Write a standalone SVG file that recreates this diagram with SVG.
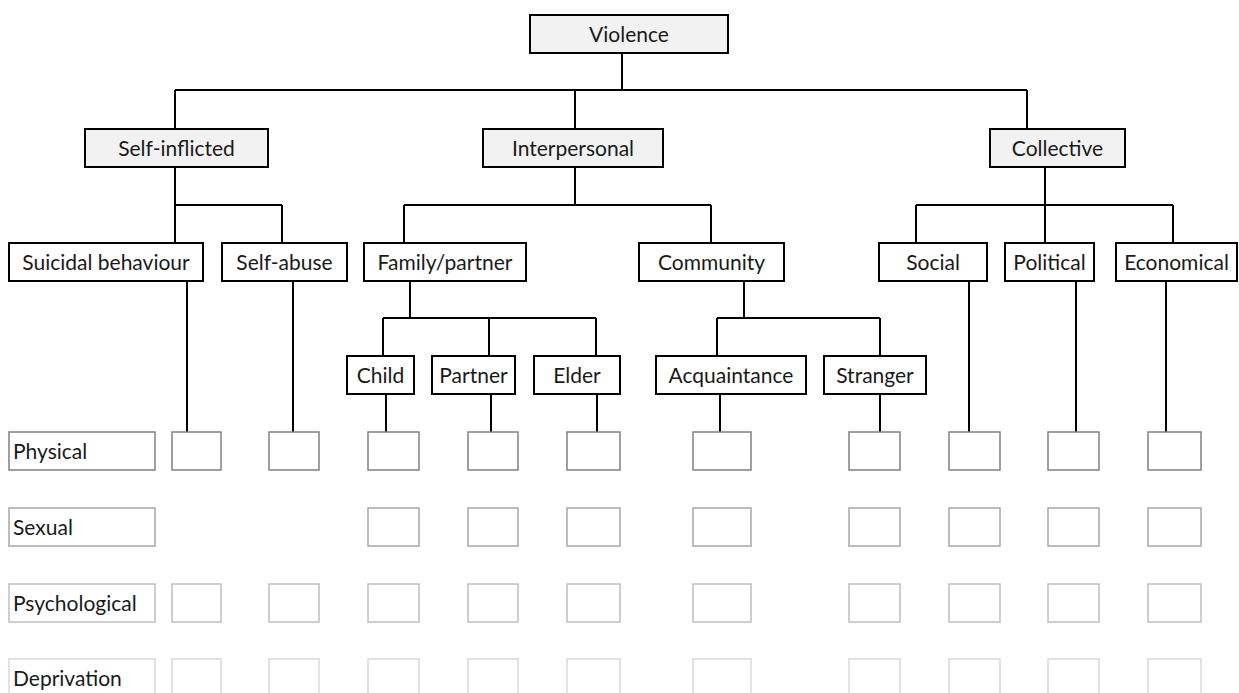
<svg xmlns="http://www.w3.org/2000/svg" width="1239" height="693" viewBox="0 0 1239 693">
<style>
.n rect{stroke:#000;stroke-width:2;fill:#fff}
.g rect{fill:#f2f2f2}
text{font-family:Lato,"Liberation Sans",sans-serif;font-size:21px;fill:#1a1a1a}
.c{text-anchor:middle}
.conn{fill:none;stroke:#000;stroke-width:2}
.r1 rect{fill:#fff;stroke:#808080;stroke-width:1.5}
.r2 rect{fill:#fff;stroke:#a6a6a6;stroke-width:1.5}
.r3 rect{fill:#fff;stroke:#bfbfbf;stroke-width:1.5}
.r4 rect{fill:#fff;stroke:#d9d9d9;stroke-width:1.5}
</style>
<g id="connectors" class="conn">
<path d="M622,53V90M175,90H1027M175,90V129M575,90V129M1027,90V129"/>
<path d="M175,167V205M175,205H282M175,205V243M282,205V243"/>
<path d="M575,167V205M404,205H711M404,205V243M711,205V243"/>
<path d="M1045,167V205M916,205H1173M916,205V243M1045,205V243M1173,205V243"/>
<path d="M187,281V432M293,281V432"/>
<path d="M410,281V318M383,318H596M383,318V356M489,318V356M596,318V356"/>
<path d="M744,281V318M717,318H880M717,318V356M880,318V356"/>
<path d="M386,394V432M491,394V432M597,394V432M720,394V432M880,394V432"/>
<path d="M969,281V432M1076,281V432M1166,281V432"/>
</g>
<g id="violence" class="n g"><rect x="530" y="15" width="198" height="38"/><text class="c" x="629" y="42">Violence</text></g>
<g id="self-inflicted" class="n g"><rect x="85" y="129" width="183" height="38"/><text class="c" x="176.5" y="156">Self-inflicted</text></g>
<g id="interpersonal" class="n g"><rect x="483" y="129" width="180" height="38"/><text class="c" x="573" y="156">Interpersonal</text></g>
<g id="collective" class="n g"><rect x="990" y="129" width="135" height="38"/><text class="c" x="1057.5" y="156">Collective</text></g>
<g id="suicidal" class="n"><rect x="9" y="243" width="194" height="38"/><text class="c" x="106" y="270">Suicidal behaviour</text></g>
<g id="self-abuse" class="n"><rect x="222" y="243" width="125" height="38"/><text class="c" x="284.5" y="270">Self-abuse</text></g>
<g id="family" class="n"><rect x="364" y="243" width="162" height="38"/><text class="c" x="445" y="270">Family/partner</text></g>
<g id="community" class="n"><rect x="639" y="243" width="145" height="38"/><text class="c" x="711.5" y="270">Community</text></g>
<g id="social" class="n"><rect x="879" y="243" width="108" height="38"/><text class="c" x="933" y="270">Social</text></g>
<g id="political" class="n"><rect x="1005" y="243" width="89" height="38"/><text class="c" x="1049.5" y="270">Political</text></g>
<g id="economical" class="n"><rect x="1116" y="243" width="121" height="38"/><text class="c" x="1176.5" y="270">Economical</text></g>
<g id="child" class="n"><rect x="347" y="356" width="67" height="38"/><text class="c" x="380.5" y="383">Child</text></g>
<g id="partner" class="n"><rect x="432" y="356" width="83" height="38"/><text class="c" x="473.5" y="383">Partner</text></g>
<g id="elder" class="n"><rect x="534" y="356" width="86" height="38"/><text class="c" x="577" y="383">Elder</text></g>
<g id="acquaintance" class="n"><rect x="656" y="356" width="150" height="38"/><text class="c" x="731" y="383">Acquaintance</text></g>
<g id="stranger" class="n"><rect x="824" y="356" width="102" height="38"/><text class="c" x="875" y="383">Stranger</text></g>
<g id="row-physical" class="r1">
<rect x="9" y="432" width="146" height="38"/><text x="13" y="459">Physical</text>
<rect x="172" y="432" width="49" height="38"/><rect x="269" y="432" width="50" height="38"/><rect x="368" y="432" width="51" height="38"/><rect x="468" y="432" width="50" height="38"/><rect x="567" y="432" width="53" height="38"/><rect x="693" y="432" width="58" height="38"/><rect x="849" y="432" width="51" height="38"/><rect x="949" y="432" width="51" height="38"/><rect x="1048" y="432" width="51" height="38"/><rect x="1148" y="432" width="53" height="38"/>
</g>
<g id="row-sexual" class="r2">
<rect x="9" y="508" width="146" height="38"/><text x="13" y="535">Sexual</text>
<rect x="368" y="508" width="51" height="38"/><rect x="468" y="508" width="50" height="38"/><rect x="567" y="508" width="53" height="38"/><rect x="693" y="508" width="58" height="38"/><rect x="849" y="508" width="51" height="38"/><rect x="949" y="508" width="51" height="38"/><rect x="1048" y="508" width="51" height="38"/><rect x="1148" y="508" width="53" height="38"/>
</g>
<g id="row-psychological" class="r3">
<rect x="9" y="584" width="146" height="38"/><text x="13" y="611">Psychological</text>
<rect x="172" y="584" width="49" height="38"/><rect x="269" y="584" width="50" height="38"/><rect x="368" y="584" width="51" height="38"/><rect x="468" y="584" width="50" height="38"/><rect x="567" y="584" width="53" height="38"/><rect x="693" y="584" width="58" height="38"/><rect x="849" y="584" width="51" height="38"/><rect x="949" y="584" width="51" height="38"/><rect x="1048" y="584" width="51" height="38"/><rect x="1148" y="584" width="53" height="38"/>
</g>
<g id="row-deprivation" class="r4">
<rect x="9" y="659" width="146" height="38"/><text x="13" y="686">Deprivation</text>
<rect x="172" y="659" width="49" height="38"/><rect x="269" y="659" width="50" height="38"/><rect x="368" y="659" width="51" height="38"/><rect x="468" y="659" width="50" height="38"/><rect x="567" y="659" width="53" height="38"/><rect x="693" y="659" width="58" height="38"/><rect x="849" y="659" width="51" height="38"/><rect x="949" y="659" width="51" height="38"/><rect x="1048" y="659" width="51" height="38"/><rect x="1148" y="659" width="53" height="38"/>
</g>
</svg>
